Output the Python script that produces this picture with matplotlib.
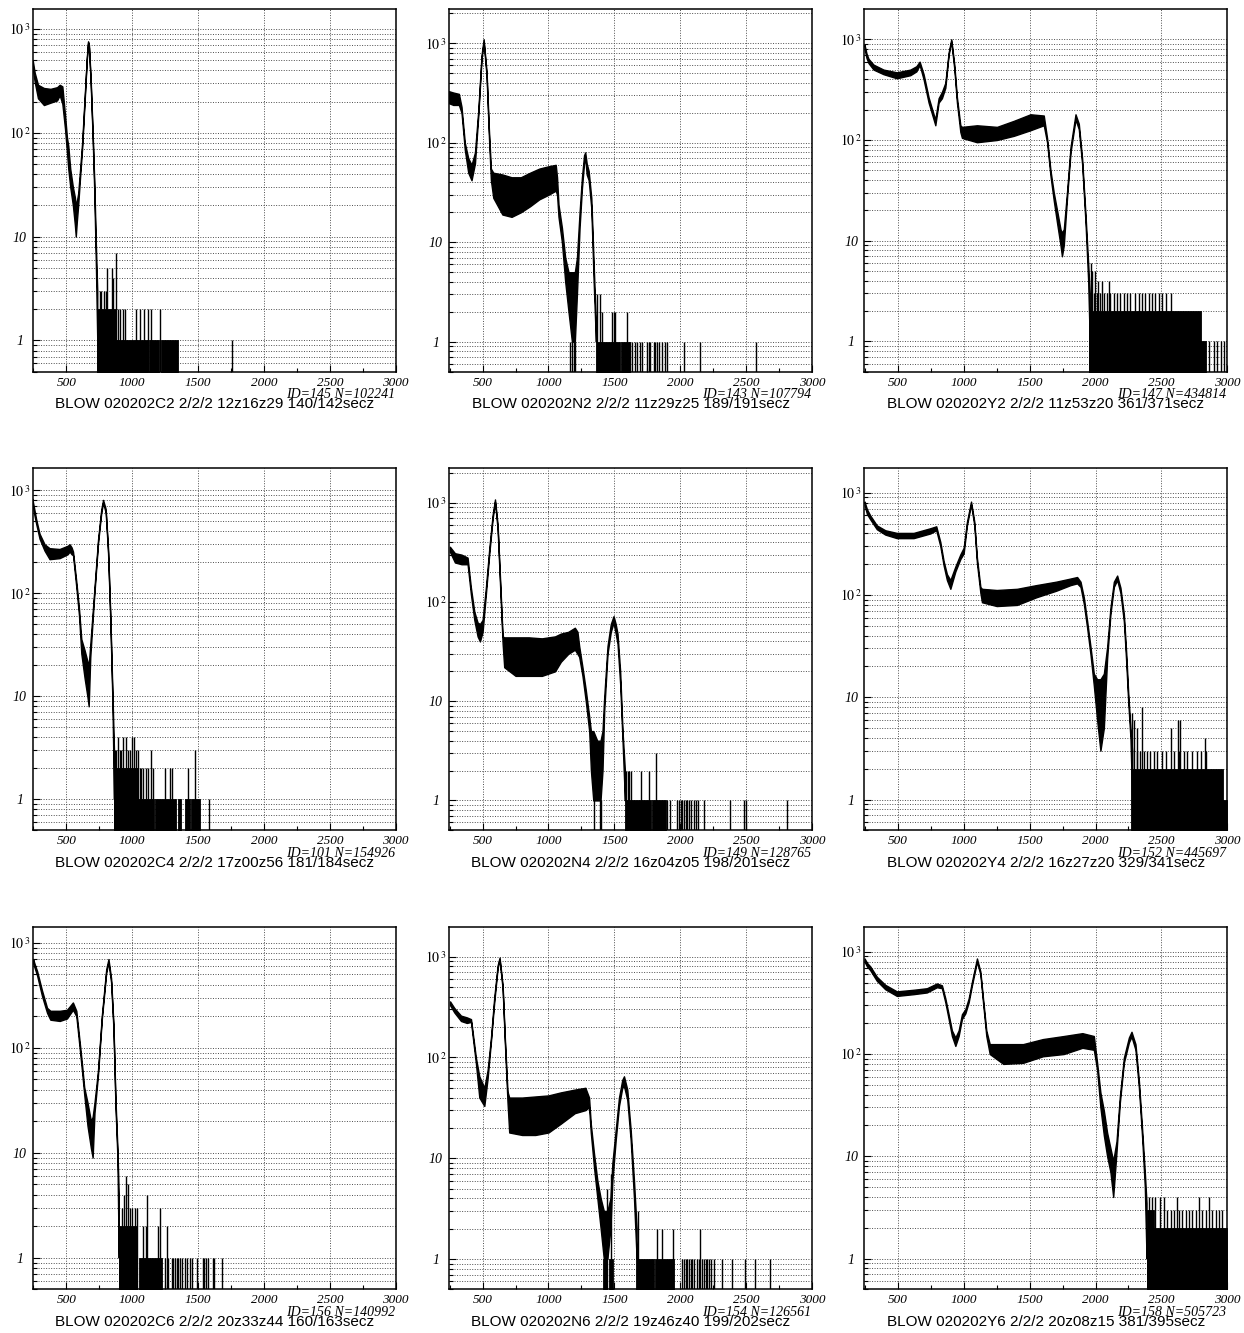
import matplotlib
matplotlib.use("Agg")
import matplotlib.pyplot as plt
from matplotlib.ticker import LogLocator, MultipleLocator, NullFormatter

plt.rcParams["mathtext.fontset"] = "stix"

# ---------------------------------------------------------------- spectra
# Each spectrum: channel points with upper/lower edge of the noisy trace,
# solid runs of occupied bins in the tail (x0, x1, counts) and single spikes.

C2_x = [245, 260, 285, 330, 380, 430, 450, 470, 490, 505, 515, 530, 550, 565, 572, 580, 590, 605,
        620, 640, 655, 665, 672, 685, 700, 712, 725, 735]
C2_hi = [500, 380, 290, 270, 265, 275, 290, 280, 150, 90, 75, 45, 30, 24, 20, 22, 26, 45,
         80, 230, 520, 760, 700, 330, 100, 35, 8, 3]
C2_lo = [420, 310, 215, 185, 195, 205, 230, 190, 110, 65, 45, 30, 20, 13, 10, 14, 20, 38,
         70, 210, 490, 730, 660, 300, 90, 28, 5, 1]
C2_dense = [(733, 1121, 1), (1128, 1205, 1), (1222, 1349, 1), (733, 880, 2)]
C2_spike_x = [753, 766, 784, 799, 809, 844, 855, 877, 893, 910, 931, 946, 1027, 1057, 1088, 1121,
              1146, 1212, 1759]
C2_spike_n = [3, 3, 3, 3, 5, 5, 4, 7, 2, 2, 2, 2, 2, 2, 2, 2, 2, 2, 1]

N2_x = [244, 277, 320, 340, 365, 391, 416, 442, 467, 492, 508, 530, 548, 563, 581, 650, 720, 790,
        860, 930, 1000, 1055, 1065, 1076, 1102, 1127, 1152, 1178, 1200, 1216, 1236, 1254, 1270,
        1279, 1290, 1305, 1325, 1343, 1360]
N2_hi = [330, 320, 310, 230, 100, 70, 60, 80, 210, 760, 1100, 520, 135, 55, 50, 48, 45, 45,
         50, 55, 58, 60, 45, 24, 14, 7, 5, 5, 5, 7, 20, 45, 75, 80, 62, 52, 28, 6, 1.5]
N2_lo = [250, 240, 240, 200, 85, 50, 42, 62, 185, 700, 1020, 470, 115, 42, 28, 19, 18, 20,
         23, 27, 30, 33, 30, 18, 10, 4, 2, 1, 1, 3, 14, 35, 62, 70, 48, 42, 22, 4, 1]
N2_dense = [(1360, 1545, 1), (1550, 1615, 1)]
N2_spike_x = [1165, 1175, 1190, 1205, 1368, 1393, 1406, 1482, 1495, 1508, 1596, 1617, 1635, 1660,
              1673, 1698, 1711, 1749, 1761, 1774, 1799, 1812, 1825, 1838, 1863, 1883, 1901, 2028,
              2150, 2574]
N2_spike_n = [1, 1, 1, 1, 3, 3, 2, 2, 2, 2, 2, 1, 1, 1,
              1, 1, 1, 1, 1, 1, 1, 1, 1, 1, 1, 1, 1, 1,
              1, 1]

Y2_x = [247, 262, 277, 315, 391, 492, 594, 640, 665, 695, 733, 771, 784, 809, 834, 860, 885, 905,
        928, 948, 974, 986, 1100, 1252, 1380, 1506, 1607, 1632, 1658, 1683, 1708, 1734, 1745, 1759,
        1784, 1810, 1848, 1873, 1898, 1924, 1944, 1956]
Y2_hi = [880, 720, 640, 560, 500, 470, 500, 540, 600, 450, 265, 180, 160, 260, 300, 370, 740, 1000,
         560, 265, 140, 135, 140, 135, 155, 180, 175, 105, 50, 30, 20, 13, 12, 13,
         31, 85, 180, 145, 66, 18, 6, 3]
Y2_lo = [800, 650, 580, 500, 450, 410, 440, 480, 555, 400, 235, 160, 140, 235, 260, 330, 700, 950,
         510, 235, 120, 105, 95, 100, 110, 125, 140, 95, 44, 25, 15, 9, 7, 9,
         27, 75, 160, 128, 58, 15, 4, 1]
Y2_dense = [(1950, 2840, 1), (1950, 2797, 2)]
Y2_spike_x = [1962, 1974, 1999, 2020, 2050, 2101, 1969, 1992, 2012, 2037, 2063, 2088, 2113, 2139,
              2164, 2189, 2215, 2240, 2265, 2296, 2329, 2354, 2379, 2405, 2430, 2455, 2481, 2506,
              2531, 2569, 2861, 2899, 2924, 2949, 2975, 2995]
Y2_spike_n = [6, 5, 5, 4, 4, 4, 3, 3, 3, 3, 3, 3, 3, 3,
              3, 3, 3, 3, 3, 3, 3, 3, 3, 3, 3, 3, 3, 3,
              3, 3, 1, 1, 1, 1, 1, 1]

C4_x = [242, 255, 272, 297, 335, 373, 449, 510, 525, 540, 551, 576, 596, 614, 639, 660, 670, 682,
        708, 741, 765, 779, 799, 817, 834, 850, 862]
C4_hi = [830, 680, 520, 380, 300, 275, 270, 290, 300, 280, 255, 130, 72, 36, 28, 22, 20, 32,
         90, 335, 650, 810, 660, 270, 62, 11, 3]
C4_lo = [760, 600, 470, 340, 260, 215, 220, 240, 255, 240, 235, 115, 62, 26, 15, 10, 8, 24,
         80, 310, 600, 760, 610, 245, 55, 9, 1]
C4_dense = [(862, 1167, 1), (1175, 1336, 1), (1349, 1374, 1), (1399, 1437, 1), (1450, 1513, 1),
            (862, 1045, 2)]
C4_spike_x = [867, 880, 893, 905, 918, 931, 956, 969, 982, 1002, 1014, 1032, 1045, 1057, 1070,
              1083, 1108, 1121, 1146, 1159, 1247, 1290, 1305, 1425, 1475, 1584]
C4_spike_n = [3, 3, 4, 3, 3, 4, 4, 3, 3, 4, 4, 3, 3, 2, 2,
              2, 2, 2, 3, 2, 2, 2, 2, 2, 3, 1]

N4_x = [252, 290, 340, 386, 411, 437, 462, 480, 500, 525, 551, 576, 594, 614, 631, 652, 664, 750,
        850, 950, 1050, 1094, 1150, 1200, 1220, 1233, 1258, 1283, 1309, 1322, 1340, 1370, 1395,
        1410, 1423, 1448, 1473, 1494, 1510, 1524, 1544, 1562, 1580]
N4_hi = [360, 310, 300, 280, 140, 80, 62, 60, 66, 140, 350, 750, 1080, 600, 190, 45, 44, 44,
         44, 43, 45, 48, 50, 55, 50, 36, 22, 13, 7, 5, 5, 4, 4,
         5, 11, 36, 60, 72, 60, 48, 20, 5, 2]
N4_lo = [320, 250, 240, 240, 120, 66, 45, 40, 50, 120, 310, 690, 1020, 540, 165, 38, 22, 18,
         18, 18, 20, 25, 30, 33, 30, 28, 18, 10, 5, 2, 1, 1, 1,
         2, 8, 30, 50, 62, 48, 38, 15, 4, 1]
N4_dense = [(1580, 1777, 1), (1785, 1891, 1)]
N4_spike_x = [1342, 1392, 1402, 1587, 1600, 1612, 1625, 1701, 1764, 1815, 1903, 1921, 1979, 1992,
              2004, 2017, 2030, 2042, 2055, 2068, 2080, 2106, 2118, 2131, 2181, 2379, 2485, 2497,
              2814]
N4_spike_n = [1, 1, 1, 2, 2, 2, 2, 2, 2, 3, 1, 1, 1, 1,
              1, 1, 1, 1, 1, 1, 1, 1, 1, 1, 1, 1, 1, 1,
              1]

Y4_x = [247, 265, 290, 340, 404, 492, 619, 746, 791, 822, 847, 872, 898, 936, 974, 999, 1024,
        1055, 1080, 1100, 1126, 1138, 1250, 1404, 1550, 1700, 1810, 1860, 1886, 1911, 1936, 1962,
        1987, 2012, 2037, 2063, 2088, 2113, 2139, 2164, 2189, 2215, 2233, 2248, 2265, 2278]
Y4_hi = [820, 690, 600, 480, 430, 405, 405, 450, 470, 330, 215, 160, 140, 190, 250, 290, 520,
         820, 520, 230, 120, 115, 112, 115, 125, 135, 145, 150, 135, 95, 56, 31,
         17, 15, 15, 17, 31, 75, 135, 155, 118, 65, 27, 11, 5, 3]
Y4_lo = [760, 620, 550, 440, 390, 360, 360, 400, 430, 300, 195, 140, 115, 170, 225, 255, 480,
         770, 480, 205, 105, 85, 78, 80, 95, 110, 125, 130, 120, 82, 48, 26,
         13, 6, 3, 5, 24, 65, 120, 140, 105, 55, 22, 9, 4, 1]
Y4_dense = [(2278, 3000, 1), (2270, 2965, 2)]
Y4_spike_x = [2278, 2291, 2311, 2354, 2572, 2628, 2643, 2831, 2316, 2341, 2367, 2392, 2417, 2443,
              2468, 2506, 2531, 2595, 2633, 2671, 2696, 2734, 2772, 2797, 2835]
Y4_spike_n = [7, 6, 5, 8, 5, 6, 6, 4, 3, 3, 3, 3, 3, 3,
              3, 3, 3, 3, 3, 3, 3, 3, 3, 3, 3]

C6_x = [248, 263, 278, 316, 354, 379, 450, 505, 550, 576, 601, 619, 636, 661, 687, 700, 714, 740,
        770, 803, 820, 840, 858, 873, 888, 898]
C6_hi = [700, 610, 540, 350, 240, 225, 225, 230, 270, 225, 115, 70, 42, 30, 20, 22, 30, 60,
         205, 560, 700, 460, 165, 33, 11, 4]
C6_lo = [640, 560, 490, 310, 215, 185, 180, 190, 230, 200, 100, 60, 36, 18, 11, 9, 24, 54,
         190, 520, 650, 420, 150, 28, 9, 1]
C6_dense = [(898, 1040, 1), (1052, 1224, 1), (898, 1040, 2)]
C6_spike_x = [919, 937, 952, 970, 987, 1002, 1020, 1033, 1085, 1103, 1115, 1199, 1211, 1249, 1262,
              1274, 1300, 1312, 1325, 1337, 1350, 1363, 1375, 1400, 1413, 1438, 1451, 1489, 1534,
              1544, 1564, 1577, 1610, 1620, 1678]
C6_spike_n = [3, 4, 6, 5, 3, 3, 3, 3, 2, 2, 4, 2, 3, 1, 2,
              1, 1, 1, 1, 1, 1, 1, 1, 1, 1, 1, 1, 1, 1,
              1, 1, 1, 1, 1, 1]

N6_x = [253, 285, 336, 380, 412, 424, 449, 475, 513, 538, 563, 588, 614, 629, 652, 669, 689, 702,
        800, 900, 1000, 1093, 1200, 1280, 1308, 1321, 1346, 1371, 1396, 1420, 1447, 1470, 1485,
        1510, 1535, 1560, 1573, 1598, 1624, 1649, 1669]
N6_hi = [360, 310, 260, 250, 240, 180, 100, 65, 50, 75, 155, 390, 820, 980, 520, 155, 46, 40,
         40, 41, 42, 45, 48, 50, 40, 22, 11, 6, 4, 3, 3, 4, 9,
         19, 40, 60, 65, 48, 19, 6, 2]
N6_lo = [330, 280, 230, 220, 225, 165, 88, 40, 33, 62, 142, 350, 770, 930, 480, 140, 36, 18,
         17, 17, 18, 22, 28, 30, 32, 18, 8, 4, 2, 1, 1, 2, 6,
         15, 33, 50, 52, 38, 15, 4, 1]
N6_dense = [(1417, 1447, 1), (1460, 1492, 1), (1662, 1800, 1), (1808, 1952, 1)]
N6_spike_x = [1447, 1472, 1679, 1821, 1859, 1947, 2015, 2028, 2040, 2053, 2066, 2078, 2091, 2104,
              2129, 2141, 2149, 2167, 2179, 2192, 2205, 2217, 2230, 2255, 2318, 2394, 2495, 2571,
              2679]
N6_spike_n = [5, 7, 3, 2, 2, 2, 1, 1, 1, 1, 1, 1, 1, 1,
              1, 1, 2, 1, 1, 1, 1, 1, 1, 1, 1, 1, 1, 1,
              1]

Y6_x = [247, 265, 290, 340, 404, 492, 619, 720, 796, 834, 860, 885, 910, 936, 961, 986, 1012,
        1037, 1062, 1100, 1126, 1146, 1171, 1197, 1300, 1450, 1600, 1759, 1900, 1987, 2012, 2037,
        2063, 2088, 2113, 2134, 2159, 2184, 2215, 2253, 2273, 2303, 2329, 2354, 2374, 2387]
Y6_hi = [860, 780, 720, 570, 475, 410, 425, 440, 490, 470, 350, 245, 170, 145, 170, 245, 275,
         350, 510, 860, 640, 350, 170, 125, 125, 125, 140, 150, 160, 150, 82, 42,
         28, 17, 12, 9, 14, 38, 92, 145, 165, 125, 55, 18, 7, 3.5]
Y6_lo = [800, 720, 660, 520, 430, 370, 385, 400, 450, 440, 320, 220, 150, 120, 150, 220, 250,
         320, 470, 800, 600, 320, 150, 100, 80, 82, 95, 100, 115, 110, 70, 30,
         16, 10, 7, 4, 11, 33, 82, 130, 148, 110, 47, 15, 5, 1]
Y6_dense = [(2387, 3000, 1), (2387, 3000, 2), (2387, 2440, 3)]
Y6_spike_x = [2405, 2430, 2455, 2493, 2519, 2620, 2785, 2861, 2544, 2569, 2595, 2633, 2658, 2683,
              2709, 2734, 2759, 2810, 2835, 2886, 2911, 2937, 2962]
Y6_spike_n = [4, 4, 4, 4, 4, 4, 4, 4, 3, 3, 3, 3, 3, 3,
              3, 3, 3, 3, 3, 3, 3, 3, 3]

TITLES = [
    "BLOW 020202C2 2/2/2 12z16z29 140/142secz",
    "BLOW 020202N2 2/2/2 11z29z25 189/191secz",
    "BLOW 020202Y2 2/2/2 11z53z20 361/371secz",
    "BLOW 020202C4 2/2/2 17z00z56 181/184secz",
    "BLOW 020202N4 2/2/2 16z04z05 198/201secz",
    "BLOW 020202Y4 2/2/2 16z27z20 329/341secz",
    "BLOW 020202C6 2/2/2 20z33z44 160/163secz",
    "BLOW 020202N6 2/2/2 19z46z40 199/202secz",
    "BLOW 020202Y6 2/2/2 20z08z15 381/395secz",
]
HIST_ID = [145, 143, 147, 101, 149, 152, 156, 154, 158]
ENTRIES = [102241, 107794, 434814, 154926, 128765, 445697, 140992, 126561, 505723]
Y_MAX = [1550, 2200, 1990, 1660, 2250, 1755, 1420, 1980, 1755]

SPECTRA = [
    (C2_x, C2_hi, C2_lo, C2_dense, C2_spike_x, C2_spike_n),
    (N2_x, N2_hi, N2_lo, N2_dense, N2_spike_x, N2_spike_n),
    (Y2_x, Y2_hi, Y2_lo, Y2_dense, Y2_spike_x, Y2_spike_n),
    (C4_x, C4_hi, C4_lo, C4_dense, C4_spike_x, C4_spike_n),
    (N4_x, N4_hi, N4_lo, N4_dense, N4_spike_x, N4_spike_n),
    (Y4_x, Y4_hi, Y4_lo, Y4_dense, Y4_spike_x, Y4_spike_n),
    (C6_x, C6_hi, C6_lo, C6_dense, C6_spike_x, C6_spike_n),
    (N6_x, N6_hi, N6_lo, N6_dense, N6_spike_x, N6_spike_n),
    (Y6_x, Y6_hi, Y6_lo, Y6_dense, Y6_spike_x, Y6_spike_n),
]

# ---------------------------------------------------------------- layout (pixels)
W, H = 1244, 1333
COL_LEFT = [32.7, 449.0, 864.3]
ROW_BOTTOM = [371.7, 830.3, 1289.3]
AX_W, AX_H = 363.0, 362.5
X_MIN, X_MAX = 245, 3000
FLOOR = 0.01   # empty bins fall below the axis

SERIF_IT = dict(family="Liberation Serif", style="italic")
GRID = dict(color="0.3", linestyle=(0, (1, 1.6)), linewidth=0.7)

fig = plt.figure(figsize=(W / 100, H / 100), dpi=100)

for i, (x, hi, lo, dense, sx, sn) in enumerate(SPECTRA):
    r, c = divmod(i, 3)
    ax = fig.add_axes([COL_LEFT[c] / W, 1 - ROW_BOTTOM[r] / H, AX_W / W, AX_H / H])
    ax.set_yscale("log")
    ax.set_xlim(X_MIN, X_MAX)
    ax.set_ylim(0.5, Y_MAX[i])
    ax.set_axisbelow(True)

    # main trace: band between the lower and upper edge of the noisy histogram
    ax.fill_between(x, lo, hi, facecolor="k", edgecolor="k", linewidth=1.0, zorder=3)
    for x0, x1, n in dense:
        ax.fill_between([x0, x1], FLOOR, n, color="k", linewidth=0.6, zorder=3)
    ax.vlines(sx, FLOOR, sn, color="k", linewidth=1.0, zorder=3)

    # axes, ticks, grid
    ax.xaxis.set_minor_locator(MultipleLocator(250))
    ax.set_xticks(range(500, 3001, 500), [str(v) for v in range(500, 3001, 500)])
    ax.set_yticks([1, 10, 100, 1000],
                  ["1", "10", r"$\mathit{10}^{\,\mathit{2}}$", r"$\mathit{10}^{\,\mathit{3}}$"])
    ax.yaxis.set_minor_locator(LogLocator(base=10, subs=range(2, 10), numticks=20))
    ax.yaxis.set_minor_formatter(NullFormatter())
    ax.tick_params(axis="both", which="major", direction="in", length=5, width=0.8)
    ax.tick_params(axis="both", which="minor", direction="in", length=3, width=0.8)
    ax.tick_params(axis="x", which="major", pad=3.5)
    ax.tick_params(axis="y", which="major", pad=9.5)
    for lbl in ax.get_xticklabels():
        lbl.set_fontproperties(dict(SERIF_IT, size=9.5))
    for lbl in ax.get_yticklabels():
        lbl.set_fontproperties(dict(SERIF_IT, size=10))
        lbl.set_horizontalalignment("center")
    ax.grid(True, which="both", axis="y", **GRID)
    ax.grid(True, which="major", axis="x", **GRID)
    for s in ax.spines.values():
        s.set_linewidth(1.1)

    # labels under each frame
    cx = (COL_LEFT[c] + AX_W / 2) / W
    fig.text((COL_LEFT[c] + AX_W - 1) / W, 1 - (ROW_BOTTOM[r] + 23) / H,
             f"ID={HIST_ID[i]} N={ENTRIES[i]}", ha="right", va="center",
             fontsize=10, **SERIF_IT)
    fig.text(cx, 1 - (ROW_BOTTOM[r] + 32.5) / H, TITLES[i], ha="center", va="center",
             fontsize=11, family="Liberation Sans")

fig.savefig("out.png", dpi=100)
